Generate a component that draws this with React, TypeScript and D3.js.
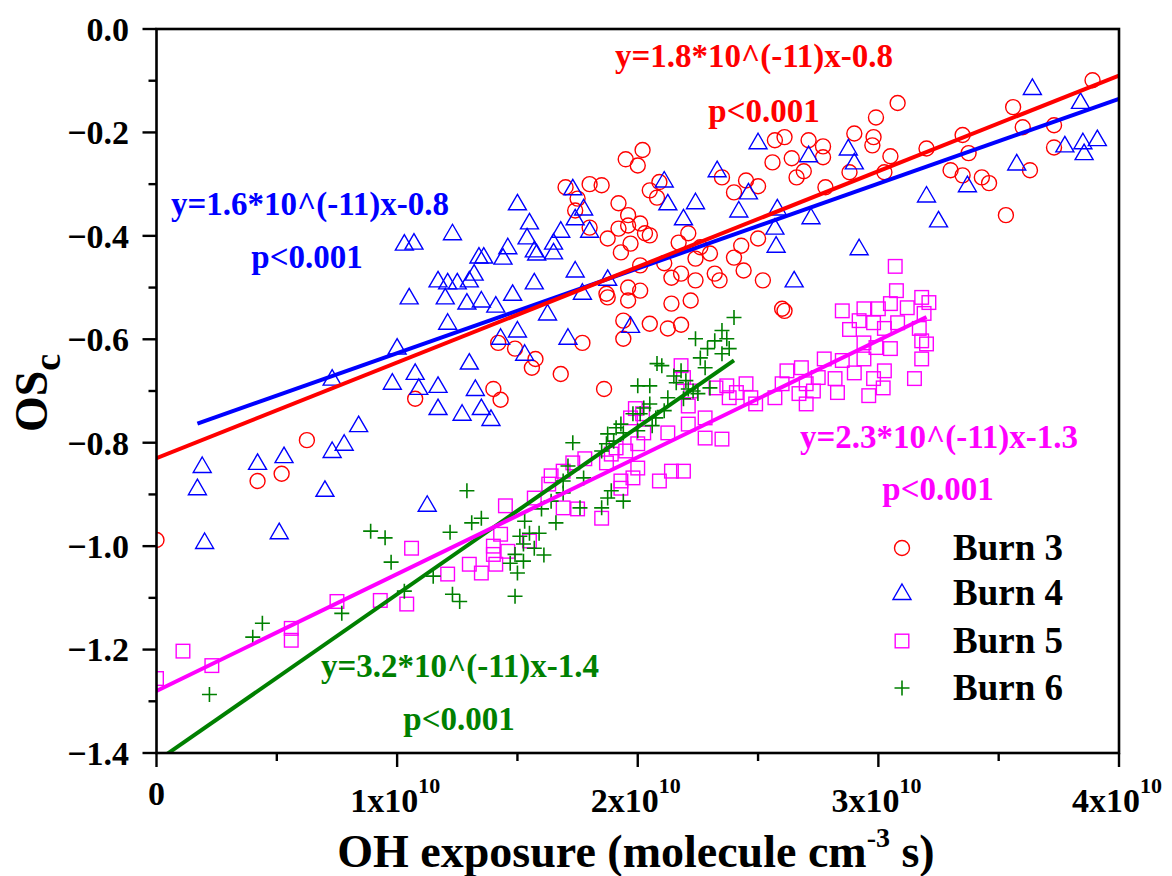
import React from 'react';
import * as d3 from 'd3';

// x values in units of 1e10 molecule cm^-3 s, y values are OSc
const burn3: [number, number][] = [
  [0.0, -0.988], [0.42, -0.874], [0.52, -0.86], [0.625, -0.795], [1.075, -0.715], [1.4, -0.696],
  [1.43, -0.717], [1.42, -0.607], [1.49, -0.618], [1.56, -0.655], [1.575, -0.638], [1.68, -0.667],
  [1.77, -0.607], [1.86, -0.696], [1.74, -0.351], [1.7, -0.306], [1.8, -0.3], [1.85, -0.302],
  [1.75, -0.328], [1.8, -0.384], [1.95, -0.252], [2.02, -0.234], [2.0, -0.264], [1.92, -0.337],
  [1.96, -0.36], [1.92, -0.386], [1.875, -0.405], [1.96, -0.38], [2.01, -0.376], [2.03, -0.395],
  [2.05, -0.399], [2.05, -0.312], [2.09, -0.296], [2.08, -0.326], [1.93, -0.432], [1.97, -0.415],
  [2.17, -0.413], [2.21, -0.395], [2.26, -0.422], [2.43, -0.419], [2.5, -0.405], [2.4, -0.442],
  [2.01, -0.457], [2.11, -0.453], [2.14, -0.481], [2.18, -0.473], [2.24, -0.486], [2.32, -0.473],
  [2.34, -0.486], [2.44, -0.467], [2.52, -0.486], [1.96, -0.5], [2.01, -0.506], [1.875, -0.519],
  [1.96, -0.525], [2.14, -0.531], [2.22, -0.525], [2.6, -0.541], [2.61, -0.545], [1.94, -0.564],
  [2.05, -0.57], [2.125, -0.579], [2.18, -0.572], [1.94, -0.599], [1.87, -0.512], [2.24, -0.444],
  [2.3, -0.434], [2.57, -0.215], [2.61, -0.209], [2.56, -0.258], [2.64, -0.25], [2.66, -0.287],
  [2.35, -0.287], [2.4, -0.316], [2.45, -0.293], [2.5, -0.304], [2.71, -0.215], [2.77, -0.227],
  [2.77, -0.248], [2.69, -0.275], [2.78, -0.306], [2.88, -0.277], [2.9, -0.202], [2.98, -0.209],
  [2.975, -0.225], [2.99, -0.171], [3.08, -0.143], [3.05, -0.246], [3.025, -0.277], [3.2, -0.231],
  [3.35, -0.205], [3.375, -0.24], [3.3, -0.273], [3.35, -0.283], [3.43, -0.287], [3.46, -0.298],
  [3.63, -0.273], [3.56, -0.151], [3.6, -0.19], [3.73, -0.186], [3.73, -0.229], [3.89, -0.099],
  [3.53, -0.36],
];

const burn4: [number, number][] = [
  [0.19, -0.845], [0.17, -0.888], [0.2, -0.992], [0.42, -0.839], [0.53, -0.826], [0.51, -0.973],
  [0.7, -0.891], [0.73, -0.816], [0.78, -0.802], [0.84, -0.766], [1.125, -0.92], [1.17, -0.733],
  [1.27, -0.744], [1.35, -0.733], [1.39, -0.754], [0.73, -0.676], [0.98, -0.684], [1.075, -0.665],
  [1.09, -0.694], [1.17, -0.69], [1.3, -0.645], [1.325, -0.696], [1.0, -0.616], [1.05, -0.519],
  [1.21, -0.568], [1.2, -0.519], [1.29, -0.529], [1.35, -0.525], [1.41, -0.535], [1.48, -0.512],
  [1.43, -0.597], [1.5, -0.583], [1.53, -0.628], [1.625, -0.55], [1.71, -0.597], [1.97, -0.574],
  [1.03, -0.415], [1.07, -0.413], [1.23, -0.395], [1.17, -0.486], [1.21, -0.49], [1.25, -0.49],
  [1.3, -0.486], [1.32, -0.473], [1.34, -0.44], [1.36, -0.44], [1.46, -0.422], [1.44, -0.442],
  [1.5, -0.337], [1.55, -0.374], [1.54, -0.403], [1.57, -0.428], [1.58, -0.434], [1.68, -0.39],
  [1.65, -0.413], [1.65, -0.432], [1.57, -0.49], [1.73, -0.308], [1.775, -0.347], [1.74, -0.366],
  [1.8, -0.39], [1.74, -0.467], [1.875, -0.483], [1.77, -0.51], [2.11, -0.293], [2.125, -0.337],
  [2.24, -0.335], [2.19, -0.366], [2.33, -0.273], [2.42, -0.351], [2.46, -0.316], [2.5, -0.219],
  [2.58, -0.347], [2.57, -0.384], [2.575, -0.419], [2.65, -0.486], [2.71, -0.244], [2.875, -0.231],
  [2.9, -0.258], [2.92, -0.424], [2.72, -0.364], [3.2, -0.322], [3.25, -0.37], [3.37, -0.302],
  [3.575, -0.26], [3.64, -0.114], [3.775, -0.225], [3.84, -0.141], [3.85, -0.219], [3.91, -0.213],
  [3.855, -0.24],
];

const burn5: [number, number][] = [
  [0.0, -1.256], [0.11, -1.203], [0.23, -1.231], [0.56, -1.159], [0.56, -1.182], [0.75, -1.107],
  [0.93, -1.105], [1.04, -1.112], [1.06, -1.004], [1.21, -1.054], [1.3, -1.035], [1.35, -1.052],
  [1.41, -1.035], [1.4, -1.0], [1.4, -1.016], [1.43, -0.977], [1.45, -0.922], [1.46, -1.01],
  [1.55, -0.99], [1.57, -0.907], [1.64, -0.864], [1.63, -0.88], [1.69, -0.926], [1.75, -0.928],
  [1.73, -0.839], [1.78, -0.831], [1.69, -0.855], [1.85, -0.946], [1.93, -0.888], [1.93, -0.874],
  [1.98, -0.868], [2.09, -0.874], [2.14, -0.855], [2.19, -0.855], [2.0, -0.849], [1.87, -0.839],
  [1.89, -0.822], [1.91, -0.81], [1.95, -0.816], [2.0, -0.802], [2.025, -0.781], [2.125, -0.781],
  [2.28, -0.791], [2.35, -0.793], [2.21, -0.764], [2.28, -0.752], [2.21, -0.729], [1.99, -0.734],
  [1.97, -0.752], [2.02, -0.744], [2.325, -0.694], [2.37, -0.69], [2.45, -0.686], [2.38, -0.713],
  [2.41, -0.703], [2.47, -0.713], [2.49, -0.725], [2.57, -0.713], [2.6, -0.686], [2.62, -0.661],
  [2.68, -0.655], [2.75, -0.674], [2.82, -0.676], [2.9, -0.665], [2.98, -0.676], [2.67, -0.705],
  [2.7, -0.686], [2.73, -0.7], [2.83, -0.703], [2.7, -0.725], [2.96, -0.709], [3.02, -0.694],
  [2.775, -0.638], [2.85, -0.641], [2.94, -0.638], [3.025, -0.661], [3.15, -0.676], [3.18, -0.638],
  [2.88, -0.581], [2.92, -0.564], [2.98, -0.568], [3.025, -0.579], [3.08, -0.568], [3.17, -0.579],
  [3.18, -0.603], [3.2, -0.609], [2.94, -0.607], [2.99, -0.616], [3.05, -0.618], [2.85, -0.545],
  [2.94, -0.541], [3.0, -0.541], [3.05, -0.531], [3.12, -0.539], [3.07, -0.459], [3.075, -0.506],
  [3.18, -0.519], [3.21, -0.529], [3.19, -0.55], [2.18, -0.651], [2.19, -0.674], [2.22, -0.7],
];

const burn6: [number, number][] = [
  [0.22, -1.287], [0.4, -1.176], [0.44, -1.149], [0.77, -1.13], [0.89, -0.971], [0.95, -0.984],
  [0.975, -1.031], [1.03, -1.087], [1.15, -1.058], [1.22, -0.973], [1.23, -1.093], [1.26, -1.107],
  [1.29, -0.893], [1.31, -0.955], [1.35, -0.946], [1.47, -1.033], [1.49, -1.016], [1.49, -1.097],
  [1.5, -1.052], [1.51, -0.981], [1.525, -1.029], [1.525, -0.996], [1.53, -0.952], [1.55, -0.975],
  [1.57, -1.004], [1.59, -0.975], [1.6, -0.928], [1.61, -1.017], [1.64, -0.913], [1.66, -0.955],
  [1.69, -0.874], [1.69, -0.897], [1.71, -0.845], [1.73, -0.8], [1.76, -0.926], [1.775, -0.868],
  [1.85, -0.816], [1.85, -0.926], [1.87, -0.802], [1.875, -0.783], [1.875, -0.907], [1.89, -0.893],
  [1.9, -0.797], [1.91, -0.771], [1.93, -0.764], [1.94, -0.781], [1.94, -0.913], [1.98, -0.744],
  [2.0, -0.777], [2.01, -0.744], [2.025, -0.733], [2.05, -0.725], [2.06, -0.767], [2.075, -0.752],
  [2.11, -0.738], [2.0, -0.69], [2.05, -0.69], [2.08, -0.647], [2.1, -0.651], [2.125, -0.713],
  [2.15, -0.671], [2.16, -0.684], [2.18, -0.661], [2.19, -0.715], [2.2, -0.68], [2.21, -0.696],
  [2.23, -0.7], [2.25, -0.705], [2.24, -0.599], [2.26, -0.636], [2.28, -0.655], [2.3, -0.694],
  [2.32, -0.603], [2.35, -0.628], [2.35, -0.583], [2.37, -0.599], [2.38, -0.618], [2.4, -0.558],
  [2.29, -0.618],
];

// Linear fits: slope per 1e10 units of x, intercept, x range of the drawn line
const fitSlopes = [0.185, 0.164, 0.226, 0.323];
const fitIntercepts = [-0.83, -0.791, -1.28, -1.416];
const fitStart = [0, 0.17, 0, 0.04];
const fitEnd = [4, 4, 3.2, 2.4];

const seriesNames = ['Burn 3', 'Burn 4', 'Burn 5', 'Burn 6'];
const seriesColors = ['#ff0000', '#0000ff', '#ff00ff', '#008000'];
const seriesShapes = ['circle', 'triangle', 'square', 'plus'];
const equations = ['y=1.8*10^(-11)x-0.8', 'y=1.6*10^(-11)x-0.8', 'y=2.3*10^(-11)x-1.3', 'y=3.2*10^(-11)x-1.4'];
const pValues = ['p<0.001', 'p<0.001', 'p<0.001', 'p<0.001'];

const xTicks = [0, 1, 2, 3, 4];
const xTickMantissa = ['0', '1x10', '2x10', '3x10', '4x10'];
const xMinorTicks = [0.5, 1.5, 2.5, 3.5];
const yTicks = [0, -0.2, -0.4, -0.6, -0.8, -1.0, -1.2, -1.4];
const yMinorTicks = [-0.1, -0.3, -0.5, -0.7, -0.9, -1.1, -1.3];

const FONT = '"Liberation Serif", "Times New Roman", Times, serif';

function Marker({ shape, cx, cy, color }: { shape: string; cx: number; cy: number; color: string }) {
  const sw = 1.4;
  if (shape === 'circle') return <circle cx={cx} cy={cy} r={7.5} fill="none" stroke={color} strokeWidth={sw} />;
  if (shape === 'triangle')
    return (
      <path
        d={`M${cx},${cy - 9} L${cx + 9},${cy + 6.5} L${cx - 9},${cy + 6.5} Z`}
        fill="none"
        stroke={color}
        strokeWidth={sw}
      />
    );
  if (shape === 'square')
    return <rect x={cx - 6.8} y={cy - 6.8} width={13.6} height={13.6} fill="none" stroke={color} strokeWidth={sw} />;
  return (
    <path d={`M${cx - 7.5},${cy} H${cx + 7.5} M${cx},${cy - 7.5} V${cy + 7.5}`} stroke={color} strokeWidth={1.6} fill="none" />
  );
}

export default function App() {
  const W = 1172;
  const H = 876;
  const left = 156.5;
  const right = 1119;
  const top = 29;
  const bottom = 753;
  const x = d3.scaleLinear().domain([0, 4]).range([left, right]);
  const y = d3.scaleLinear().domain([-1.4, 0]).range([bottom, top]);
  const allSeries = [burn3, burn4, burn5, burn6];

  // annotation positions (center x, baseline y for equation, center x / baseline y for p)
  const eqPos = [
    [754, 67, 764, 122],
    [310, 215, 307, 268],
    [939, 448, 938, 500],
    [460, 677, 459, 730],
  ];

  const legendRows = [548, 593, 641, 688];

  return (
    <svg width={W} height={H} style={{ position: 'absolute', left: 0, top: 0, background: '#fff' }} fontFamily={FONT}>
      <rect x={0} y={0} width={W} height={H} fill="#fff" />
      <defs>
        <clipPath id="plotClip">
          <rect x={left} y={top} width={right - left} height={bottom - top} />
        </clipPath>
      </defs>

      <g clipPath="url(#plotClip)">
        {allSeries.map((s, i) =>
          s.map((d, j) => (
            <Marker key={`${i}-${j}`} shape={seriesShapes[i]} cx={x(d[0])} cy={y(d[1])} color={seriesColors[i]} />
          ))
        )}
        {[3, 2, 1, 0].map((i) => {
          const x0 = fitStart[i];
          const x1 = fitEnd[i];
          return (
            <line
              key={`fit${i}`}
              x1={x(x0)}
              y1={y(fitIntercepts[i] + fitSlopes[i] * x0)}
              x2={x(x1)}
              y2={y(fitIntercepts[i] + fitSlopes[i] * x1)}
              stroke={seriesColors[i]}
              strokeWidth={4}
            />
          );
        })}
      </g>

      {/* frame */}
      <rect x={left} y={top} width={right - left} height={bottom - top} fill="none" stroke="#000" strokeWidth={2.6} />

      {/* y ticks */}
      {yTicks.map((t) => (
        <g key={`yt${t}`}>
          <line x1={left - 14} x2={left} y1={y(t)} y2={y(t)} stroke="#000" strokeWidth={2.4} />
          <text x={129} y={y(t)} dy="0.35em" textAnchor="end" fontSize={34} fontWeight="bold" fill="#000">
            {t === 0 ? '0.0' : d3.format('.1f')(t)}
          </text>
        </g>
      ))}
      {yMinorTicks.map((t) => (
        <line key={`ym${t}`} x1={left - 8} x2={left} y1={y(t)} y2={y(t)} stroke="#000" strokeWidth={2.4} />
      ))}

      {/* x ticks */}
      {xTicks.map((t, i) => (
        <g key={`xt${t}`}>
          <line x1={x(t)} x2={x(t)} y1={bottom} y2={bottom + 14} stroke="#000" strokeWidth={2.4} />
          {t === 0 ? (
            <text x={x(t)} y={805} textAnchor="middle" fontSize={34} fontWeight="bold" fill="#000">
              {xTickMantissa[i]}
            </text>
          ) : (
            <text x={x(t) - 2} y={812} textAnchor="middle" fontSize={34} fontWeight="bold" fill="#000">
              {xTickMantissa[i]}
              <tspan fontSize={22} dy={-19}>
                10
              </tspan>
            </text>
          )}
        </g>
      ))}
      {xMinorTicks.map((t) => (
        <line key={`xm${t}`} x1={x(t)} x2={x(t)} y1={bottom} y2={bottom + 8} stroke="#000" strokeWidth={2.4} />
      ))}

      {/* axis titles */}
      <text x={636} y={867} textAnchor="middle" fontSize={46} fontWeight="bold" fill="#000">
        OH exposure (molecule cm
        <tspan fontSize={28} dy={-20}>
          -3
        </tspan>
        <tspan dy={20}> s)</tspan>
      </text>
      <text transform="translate(47,432) rotate(-90)" fontSize={46} fontWeight="bold" fill="#000">
        OS
        <tspan fontSize={38} dy={13}>
          c
        </tspan>
      </text>

      {/* annotations */}
      {eqPos.map((p, i) => (
        <g key={`ann${i}`} fill={seriesColors[i]} fontWeight="bold" fontSize={33}>
          <text x={p[0]} y={p[1]} textAnchor="middle">
            {equations[i]}
          </text>
          <text x={p[2]} y={p[3]} textAnchor="middle">
            {pValues[i]}
          </text>
        </g>
      ))}

      {/* legend */}
      {seriesNames.map((n, i) => (
        <g key={`leg${i}`}>
          <Marker shape={seriesShapes[i]} cx={902} cy={legendRows[i]} color={seriesColors[i]} />
          <text x={953} y={legendRows[i] + 12} fontSize={37} fontWeight="bold" fill="#000">
            {n}
          </text>
        </g>
      ))}
    </svg>
  );
}
